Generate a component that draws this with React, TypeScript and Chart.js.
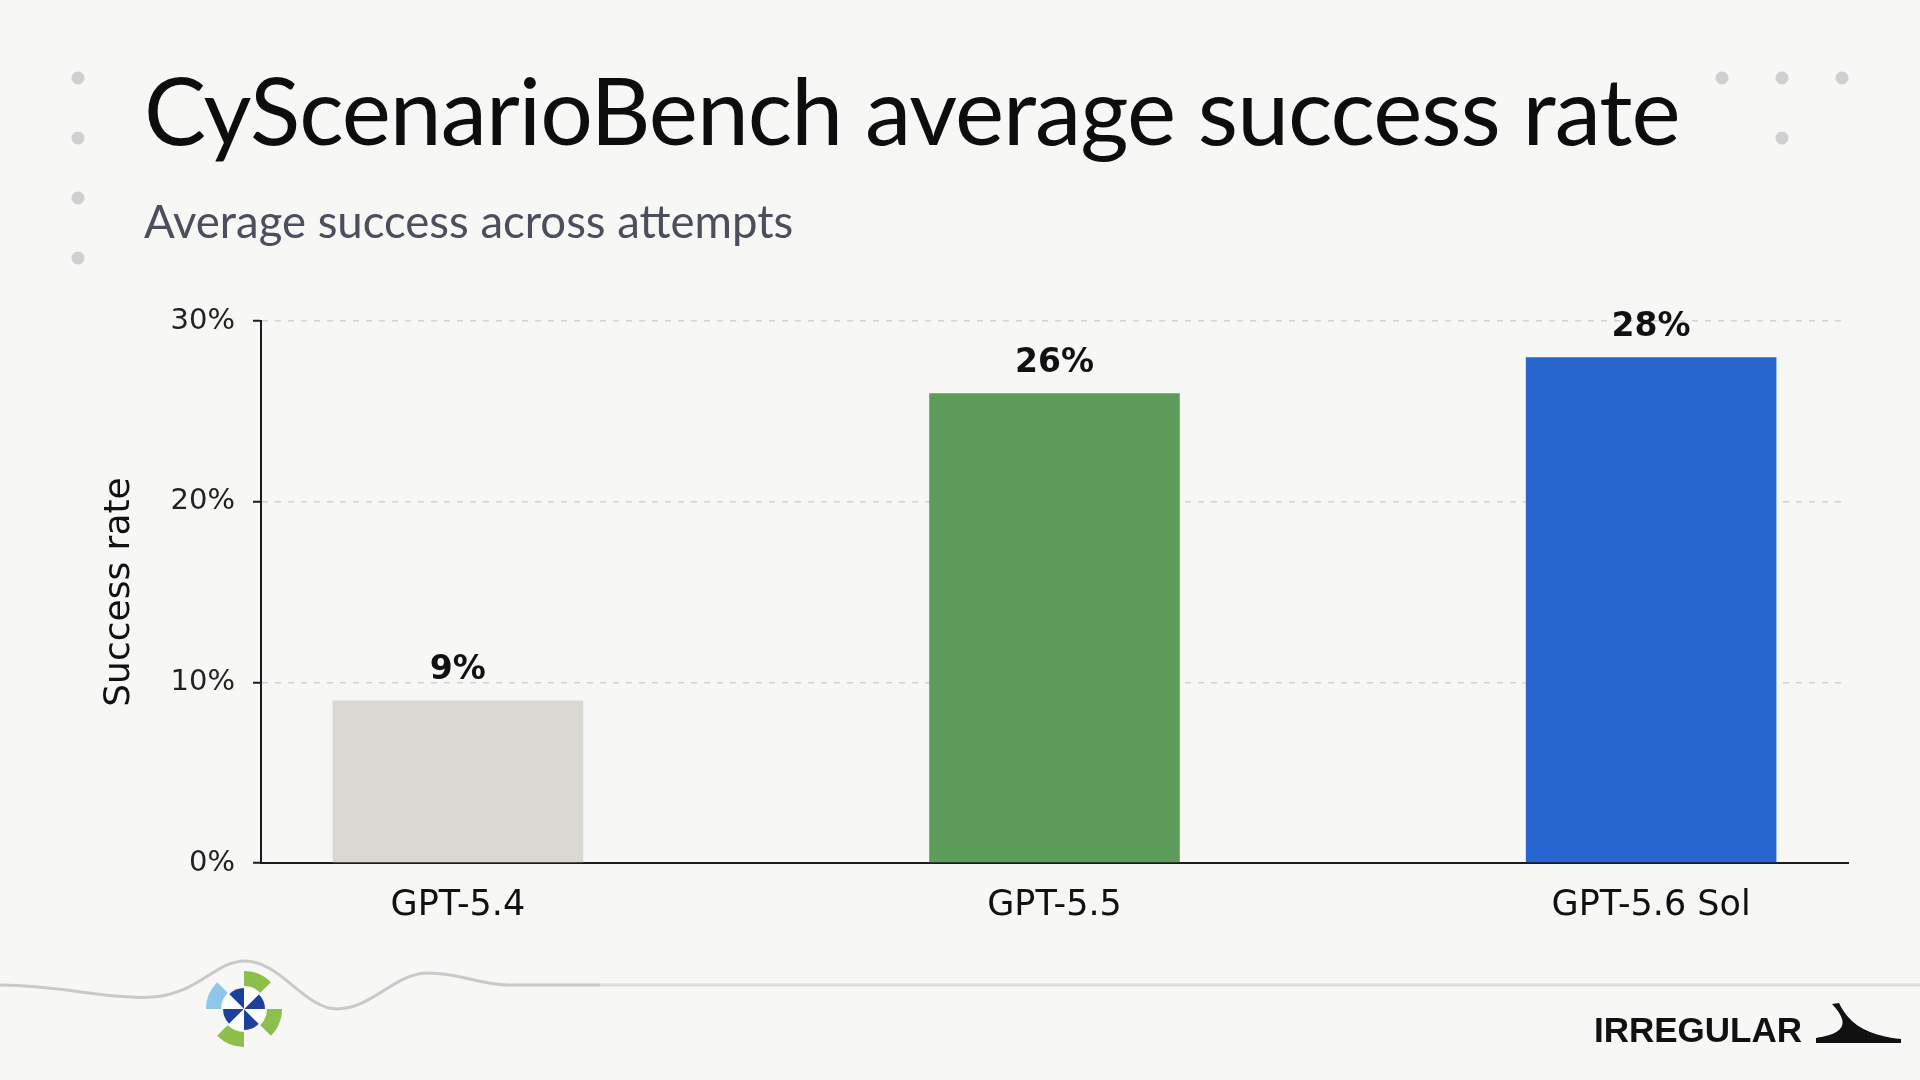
import React, { useEffect, useRef } from 'react';
import { Chart, registerables } from 'chart.js';

Chart.register(...registerables);

const categories = ['GPT-5.4', 'GPT-5.5', 'GPT-5.6 Sol'];
const successRates = [9, 26, 28];
const barColors = ['#d9d8d3', '#5e9c5a', '#2766d1'];
const yTicks = [0, 10, 20, 30];
const TITLE = 'CyScenarioBench average success rate';
const SUBTITLE = 'Average success across attempts';
const Y_TITLE = 'Success rate';
const BRAND = 'IRREGULAR';

const valueLabels = {
  id: 'valueLabels',
  afterDatasetsDraw(chart: any) {
    const { ctx } = chart;
    const meta = chart.getDatasetMeta(0);
    ctx.save();
    ctx.font = 'bold 33px "DejaVu Sans"';
    ctx.fillStyle = '#111111';
    ctx.textAlign = 'center';
    ctx.textBaseline = 'alphabetic';
    meta.data.forEach((el: any, i: number) => {
      ctx.fillText(successRates[i] + '%', el.x, el.y - 21);
    });
    ctx.restore();
  },
};

function sector(cx: number, cy: number, r0: number, r1: number, a0: number, a1: number) {
  const rad = (a: number) => (a * Math.PI) / 180;
  const p = (r: number, a: number) => [cx + r * Math.cos(rad(a)), cy + r * Math.sin(rad(a))];
  const [x0, y0] = p(r1, a0);
  const [x1, y1] = p(r1, a1);
  const [x2, y2] = p(r0, a1);
  const [x3, y3] = p(r0, a0);
  if (r0 === 0) {
    return `M${cx},${cy} L${x0},${y0} A${r1},${r1} 0 0 1 ${x1},${y1} Z`;
  }
  return `M${x0},${y0} A${r1},${r1} 0 0 1 ${x1},${y1} L${x2},${y2} A${r0},${r0} 0 0 0 ${x3},${y3} Z`;
}

export default function App() {
  const canvasRef = useRef<HTMLCanvasElement | null>(null);

  useEffect(() => {
    document.body.style.margin = '0';
    Chart.defaults.font.family = '"DejaVu Sans", sans-serif';
    const chart = new Chart(canvasRef.current as HTMLCanvasElement, {
      type: 'bar',
      data: {
        datasets: [
          {
            data: successRates.map((v, i) => ({ x: i, y: v })),
            backgroundColor: barColors,
            borderWidth: 0,
            barPercentage: 0.42,
            categoryPercentage: 1,
          },
        ],
      },
      options: {
        animation: false,
        responsive: true,
        maintainAspectRatio: false,
        layout: { padding: { left: 80, top: 321, right: 72, bottom: 100 } },
        plugins: {
          legend: { display: false },
          tooltip: { enabled: false },
        },
        scales: {
          x: {
            type: 'linear',
            offset: false,
            min: -0.33,
            max: 2.33,
            afterBuildTicks: (s: any) => {
              s.ticks = categories.map((_, i) => ({ value: i }));
            },
            afterFit: (s: any) => {
              s.height = 117;
            },
            ticks: {
              callback: (v: any) => categories[v] ?? '',
              font: { size: 35 },
              color: '#111111',
              padding: 22,
              maxRotation: 0,
              autoSkip: false,
            },
            grid: { display: false, drawTicks: false, offset: false },
            border: { display: true, color: '#1c1c1c', width: 2 },
          },
          y: {
            min: 0,
            max: 30,
            afterBuildTicks: (s: any) => {
              s.ticks = yTicks.map((v) => ({ value: v }));
            },
            afterFit: (s: any) => {
              s.width = 181;
            },
            ticks: {
              callback: (v: any) => v + '%',
              font: { size: 29 },
              color: '#222222',
              padding: 18,
            },
            grid: {
              color: (c: any) => (c.tick && c.tick.value === 0 ? 'rgba(0,0,0,0)' : '#d2d2d2'),
              lineWidth: 1.5,
              borderDash: [6, 7],
              tickColor: '#1c1c1c',
              tickWidth: 2,
              tickLength: 8,
              tickBorderDash: [],
            } as any,
            border: { display: true, color: '#1c1c1c', width: 2, dash: [6, 7] },
            title: {
              display: true,
              text: Y_TITLE,
              font: { size: 36 },
              color: '#111111',
              padding: { top: 18, bottom: 0 },
            },
          },
        },
      } as any,
      plugins: [valueLabels],
    });
    return () => chart.destroy();
  }, []);

  const cx = 244;
  const cy = 1009;
  const innerDark = [225, 315, 45, 135];
  const innerLight = [270, 0, 90, 180];
  const outer = [
    { a: 180, c: '#8ec7ea' },
    { a: 270, c: '#8cbf4c' },
    { a: 0, c: '#8cbf4c' },
    { a: 90, c: '#8cbf4c' },
  ];

  return (
    <div
      style={{
        position: 'absolute',
        left: 0,
        top: 0,
        width: 1920,
        height: 1080,
        background: '#f7f7f5',
        overflow: 'hidden',
      }}
    >
      <svg width={1920} height={1080} style={{ position: 'absolute', left: 0, top: 0 }}>
        {[78, 138, 198, 258].map((y) => (
          <circle key={'l' + y} cx={78} cy={y} r={6.5} fill="#d0d0d0" />
        ))}
        {[1722, 1782, 1842].map((x) => (
          <circle key={'r' + x} cx={x} cy={78} r={6.5} fill="#d0d0d0" />
        ))}
        <circle cx={1782} cy={138} r={6.5} fill="#d0d0d0" />
        <path
          d="M0,985 C60,985 110,1000 153,997 C200,993 215,961 245,961 C280,961 305,1009 337,1009 C372,1009 395,973 428,973 C460,973 480,985 508,985 L600,985"
          fill="none"
          stroke="#c9c9c9"
          strokeWidth={3}
        />
        <line x1={600} y1={985} x2={1920} y2={985} stroke="#dcdcdc" strokeWidth={3} />
        <circle cx={cx} cy={cy} r={21} fill="#ffffff" />
        {innerDark.map((a) => (
          <path key={'d' + a} d={sector(cx, cy, 0, 21, a, a + 45)} fill="#1d409c" />
        ))}
        {innerLight.map((a) => (
          <path key={'w' + a} d={sector(cx, cy, 0, 21, a, a + 45)} fill="#ffffff" />
        ))}
        {outer.map((o) => (
          <path key={'o' + o.a} d={sector(cx, cy, 23, 38, o.a, o.a + 45)} fill={o.c} />
        ))}
        <path
          d="M1832,1004 C1845,1018 1852,1033 1816,1038 L1816,1043 L1901,1043 L1901,1039 C1870,1036 1850,1026 1839,1003 Z"
          fill="#111111"
        />
      </svg>
      <canvas
        ref={canvasRef}
        style={{ position: 'absolute', left: 0, top: 0, width: 1920, height: 1080 }}
      />
      <div
        style={{
          position: 'absolute',
          left: 144,
          top: 53,
          fontFamily: 'Lato, sans-serif',
          fontSize: 93,
          letterSpacing: '-1px',
          lineHeight: '112px',
          color: '#0d0d0d',
          whiteSpace: 'nowrap',
        }}
      >
        {TITLE}
      </div>
      <div
        style={{
          position: 'absolute',
          left: 144,
          top: 194,
          fontFamily: 'Lato, sans-serif',
          fontSize: 45.5,
          lineHeight: '54px',
          color: '#4b4f5b',
          whiteSpace: 'nowrap',
        }}
      >
        {SUBTITLE}
      </div>
      <div
        style={{
          position: 'absolute',
          left: 1594,
          top: 1009,
          fontFamily: '"Liberation Sans", Arial, sans-serif',
          fontWeight: 700,
          fontSize: 35,
          lineHeight: '42px',
          color: '#111111',
          whiteSpace: 'nowrap',
        }}
      >
        {BRAND}
      </div>
    </div>
  );
}
